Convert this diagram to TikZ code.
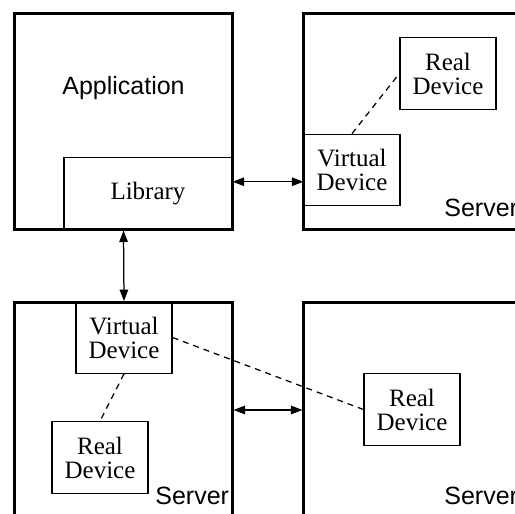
\documentclass[tikz,border=0pt]{standalone}
\usepackage{fontspec}
\setmainfont{Liberation Serif}
\setsansfont{Liberation Sans}
\usepackage{tikz}
\usetikzlibrary{arrows.meta, positioning, calc}

\begin{document}
\begin{tikzpicture}[x=0.4pt, y=-0.4pt,
  host/.style={draw, line width=1.2pt, minimum width=86.8pt, minimum height=86.4pt, inner sep=0pt},
  dev/.style={draw, line width=0.5pt, minimum width=38.4pt, minimum height=28.6pt, inner sep=0pt, align=center, font=\fontsize{10}{9.6}\selectfont},
  link/.style={line width=0.5pt, dash pattern=on 2.4pt off 2pt},
  bus/.style={line width=0.5pt, {Triangle[length=4.6pt,width=3.4pt]}-{Triangle[length=4.6pt,width=3.4pt]}},
  tag/.style={inner sep=0pt, font=\sffamily\fontsize{10}{12}\selectfont}]
  \clip (0,0) rectangle (515,514);
  % Hosts
  \node[host] (app) at (123.5,121) {};
  \node[host] (srvA) at (412.5,121) {};
  \node[host] (srvB) at (123.5,410) {};
  \node[host] (srvC) at (412.5,410) {};
  \node[tag] (apptxt) at (123.5,88) {Application};
  \node[dev, minimum width=67.2pt] (lib) at (148,193.5) {Library};
  % Devices
  \node[dev] (vdA) at (352,170) {Virtual\\Device};
  \node[dev] (rdA) at (448,73.5) {Real\\Device};
  \node[dev] (vdB) at (124,337.5) {Virtual\\Device};
  \node[dev] (rdB) at (100,457.5) {Real\\Device};
  \node[dev] (rdC) at (412,409.5) {Real\\Device};
  % Server labels
  \node[tag, anchor=base east] (srvAtxt) at ([shift={(-4,-14)}]srvA.south east) {Server};
  \node[tag, anchor=base east] (srvBtxt) at ([shift={(-4,-15)}]srvB.south east) {Server};
  \node[tag, anchor=base east] (srvCtxt) at ([shift={(-4,-15)}]srvC.south east) {Server};
  % Connections
  \coordinate (midA) at ($(lib.center)!0.5!(vdA.center)$);
  \draw[bus] (midA -| lib.east) -- (midA -| vdA.west);
  \draw[bus] (app.south) -- (vdB.north);
  \draw[bus] (srvB.east) -- (srvC.west);
  \draw[link] (vdA.north) -- (rdA.west);
  \draw[link] (vdB.south) -- (rdB.north);
  \draw[link] (vdB.east) -- (rdC.west);
\end{tikzpicture}
\end{document}
